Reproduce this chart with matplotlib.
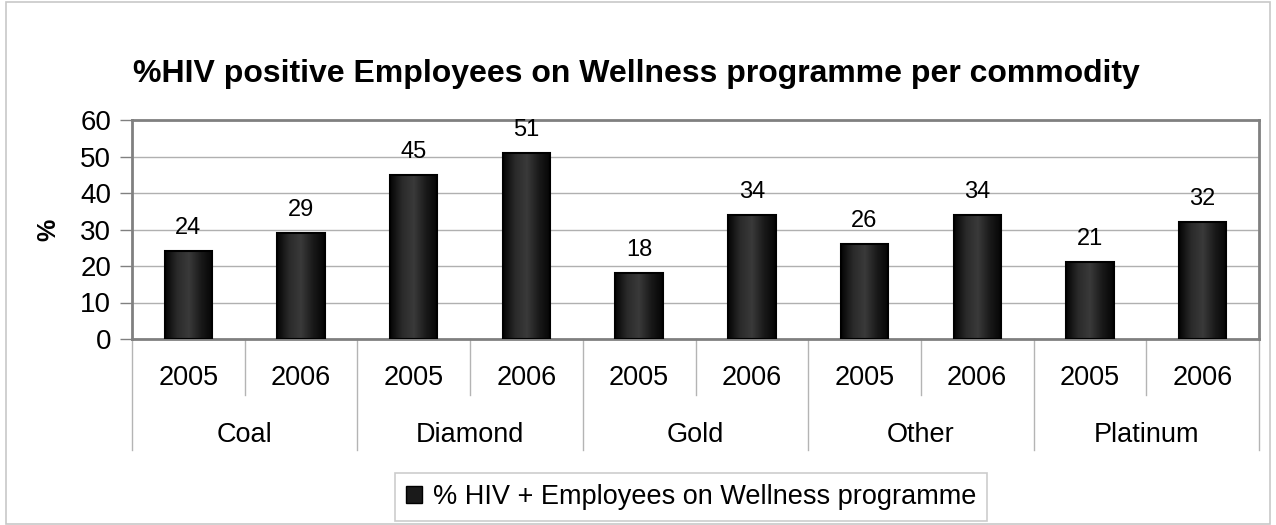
import numpy as np
import matplotlib
matplotlib.use('Agg')
import matplotlib.pyplot as plt
from matplotlib.colors import LinearSegmentedColormap
from matplotlib.patches import Rectangle, Patch
from matplotlib.transforms import blended_transform_factory

plt.rcParams['font.family'] = ['Liberation Sans', 'DejaVu Sans']

commodities = ['Coal', 'Diamond', 'Gold', 'Other', 'Platinum']
years = ['2005', '2006']
values = [24, 29, 45, 51, 18, 34, 26, 34, 21, 32]
series_name = '% HIV + Employees on Wellness programme'
title = '%HIV positive Employees on Wellness programme per commodity'

fig = plt.figure(figsize=(12.76, 5.25), dpi=100)
fig.patches.append(Rectangle((6 / 1276, 0.002), 1264 / 1276, 0.994, transform=fig.transFigure,
                             fill=False, edgecolor='#c8c8c8', lw=1.2))

ax = fig.add_axes([132 / 1276, (525 - 339) / 525, 1127 / 1276, 219 / 525])

n = len(values)
x = np.arange(n)
bw = 0.42
cmap = LinearSegmentedColormap.from_list('bar', ['#050505', '#2a2a2a', '#3a3a3a', '#1a1a1a', '#050505'])
grad = np.linspace(0, 1, 64).reshape(1, -1)
for xi, v in zip(x, values):
    ax.imshow(grad, cmap=cmap, extent=[xi - bw / 2, xi + bw / 2, 0, v], aspect='auto', zorder=2)
    ax.add_patch(Rectangle((xi - bw / 2, 0), bw, v, fill=False, edgecolor='black', lw=1.5, zorder=3))
    ax.text(xi, v + 3.3, str(v), ha='center', va='bottom', fontsize=17, zorder=4)

ax.set_xlim(-0.5, n - 0.5)
ax.set_ylim(0, 60)
ax.set_yticks(range(0, 61, 10))
ax.tick_params(axis='y', labelsize=20, length=9, width=1, color='#808080', pad=6)
ax.set_xticks([])
ax.grid(axis='y', color='#b0b0b0', lw=1, zorder=0)
ax.set_axisbelow(True)
for s in ax.spines.values():
    s.set_color('#808080')
    s.set_linewidth(2)
ax.set_ylabel('%', fontsize=18, fontweight='bold', labelpad=14)

# two-level category axis
trans = blended_transform_factory(ax.transData, ax.transAxes)
for i in range(n + 1):
    bottom = -0.507 if i % 2 == 0 else -0.256
    ax.plot([i - 0.5, i - 0.5], [0, bottom], transform=trans, color='#b4b4b4', lw=1, clip_on=False)
for i in range(n):
    ax.text(i, -0.178, years[i % 2], transform=trans, ha='center', va='center', fontsize=19.5)
for j, c in enumerate(commodities):
    ax.text(2 * j + 0.5, -0.438, c, transform=trans, ha='center', va='center', fontsize=19.5)

fig.text(636 / 1276, (525 - 74) / 525, title, ha='center', va='center', fontsize=23, fontweight='bold')

handle = Patch(facecolor='#1a1a1a', edgecolor='black')
leg = fig.legend([handle], [series_name], loc='center', bbox_to_anchor=(691 / 1276, (525 - 497) / 525),
                 fontsize=19.5, frameon=True, fancybox=False, edgecolor='#c0c0c0',
                 handlelength=0.6, handleheight=0.6, handletextpad=0.4, borderpad=0.4)
leg.get_frame().set_linewidth(1.2)

fig.savefig('out.png', dpi=100)
